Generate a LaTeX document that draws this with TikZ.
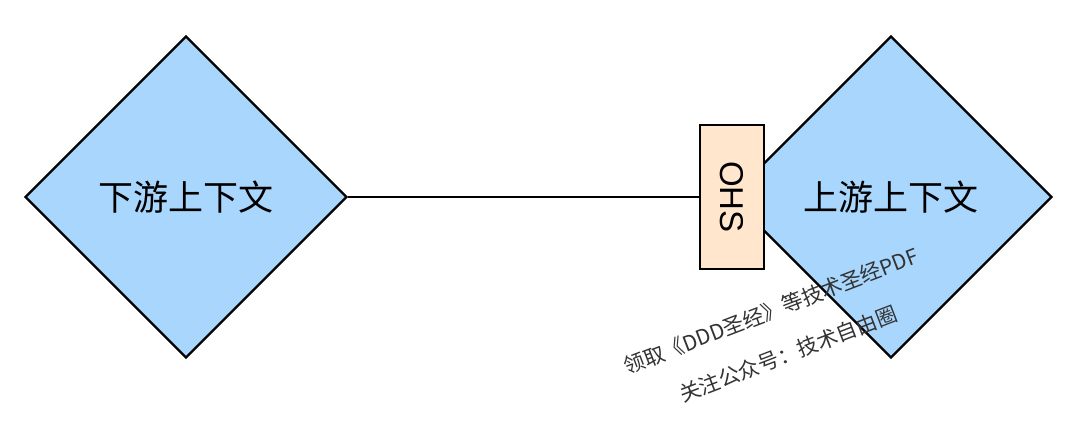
\documentclass[tikz,border=0pt]{standalone}
\usepackage{fontspec}
\setmainfont{Liberation Sans}
\newfontfamily\cjk{Noto Sans CJK SC}
\usetikzlibrary{shapes.geometric}
\definecolor{kontextblau}{RGB}{168,214,253}
\definecolor{ohsorange}{RGB}{255,230,204}
\tikzset{
  kontext/.style={diamond, draw=black, line width=2.3pt, fill=kontextblau,
    minimum width=322pt, minimum height=322pt, inner sep=0pt,
    font=\cjk\fontsize{35}{40}\selectfont},
  ohsbox/.style={rectangle, draw=black, line width=2.3pt, fill=ohsorange,
    minimum width=64pt, minimum height=144pt, inner sep=0pt,
    font=\fontsize{33}{38}\selectfont},
  hinweis/.style={rotate=21, text=black!80, font=\cjk\fontsize{21}{24}\selectfont}
}
\begin{document}
\begin{tikzpicture}[x=1pt,y=-1pt]
  \useasboundingbox[fill=white] (0,0) rectangle (1080,424);
  % Kontexte
  \node[kontext] (down) at (186,197) {下游上下文};
  \node[kontext] (up) at (891,197) {上游上下文};
  % Open Host Service
  \node[ohsbox] (ohs) at (732,197) {\rotatebox{-90}{OHS}};
  % Verbindung
  \draw[line width=2.3pt] (down.east) -- (ohs.west);
  % Hinweis
  \node[hinweis] (zeile1) at (771,311) {领取《DDD圣经》等技术圣经PDF};
  \node[hinweis] (zeile2) at (788,354) {关注公众号：技术自由圈};
\end{tikzpicture}
\end{document}
